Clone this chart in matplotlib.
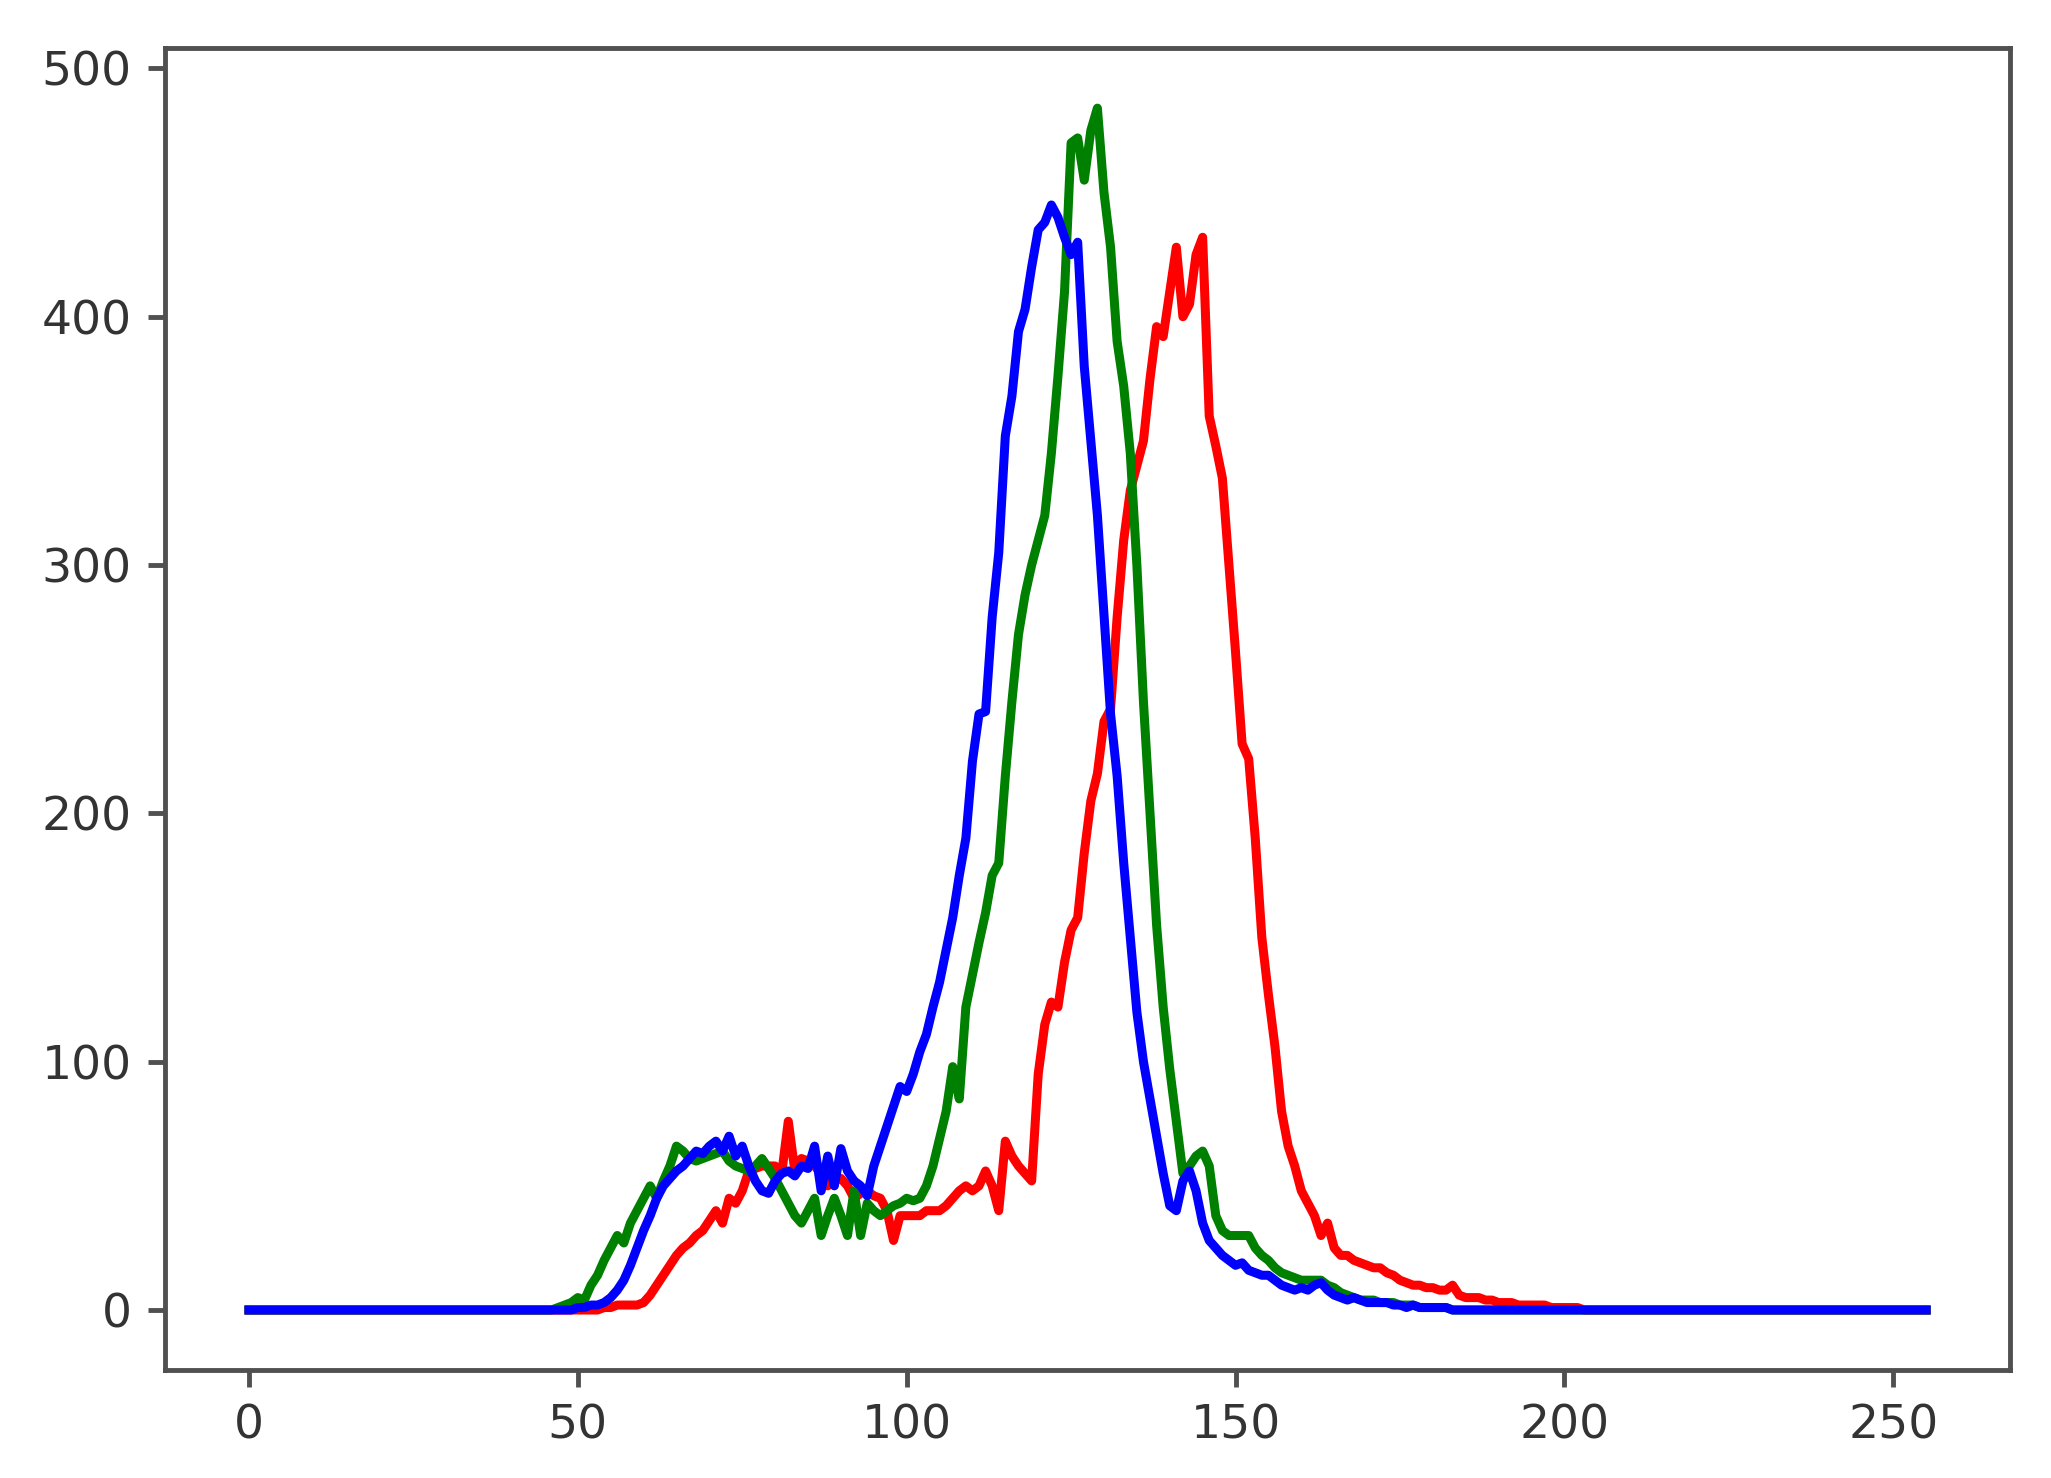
import numpy as np
import matplotlib
matplotlib.use("Agg")
import matplotlib.pyplot as plt

# histogram counts per channel (bins 0..255)
blue_start = 50
blue_vals = [1, 1, 2, 2, 3, 5, 8, 12, 18, 25,
             32, 38, 45, 50, 53, 56, 58, 61, 64, 63,
             66, 68, 64, 70, 62, 66, 58, 52, 48, 47,
             52, 55, 56, 54, 58, 57, 66, 48, 62, 50,
             65, 56, 52, 50, 46, 58, 66, 74, 82, 90,
             88, 95, 104, 111, 122, 132, 145, 158, 175, 190,
             221, 240, 241, 279, 305, 352, 368, 394, 403, 420,
             435, 438, 445, 440, 432, 425, 430, 380, 350, 320,
             280, 240, 215, 180, 150, 120, 100, 85, 70, 55,
             42, 40, 52, 56, 48, 35, 28, 25, 22, 20,
             18, 19, 16, 15, 14, 14, 12, 10, 9, 8,
             9, 8, 10, 11, 8, 6, 5, 4, 5, 4,
             3, 3, 3, 3, 2, 2, 1, 2, 1, 1,
             1, 1, 1]

green_start = 47
green_vals = [1, 2, 3,
              5, 4, 10, 14, 20, 25, 30, 27, 35, 40,
              45, 50, 45, 52, 58, 66, 64, 61, 60, 61,
              62, 63, 64, 60, 58, 57, 56, 58, 61, 57,
              53, 48, 43, 38, 35, 40, 45, 30, 38, 45,
              38, 30, 48, 30, 43, 40, 38, 40, 42, 43,
              45, 44, 45, 50, 58, 69, 80, 98, 85, 122,
              135, 148, 160, 175, 180, 215, 245, 272, 288, 300,
              310, 320, 345, 376, 410, 470, 472, 455, 475, 484,
              450, 428, 390, 372, 345, 300, 245, 200, 155, 122,
              97, 76, 55, 58, 62, 64, 58, 38, 32, 30,
              30, 30, 30, 25, 22, 20, 17, 15, 14, 13,
              12, 12, 12, 12, 10, 9, 7, 6, 5, 4,
              4, 4, 3, 3, 3, 2, 2, 2, 1, 1,
              1, 1, 1]

red_start = 54
red_vals = [1, 1, 2, 2, 2, 2,
            3, 6, 10, 14, 18, 22, 25, 27, 30, 32,
            36, 40, 35, 45, 43, 48, 56, 57, 58, 58,
            58, 55, 76, 56, 61, 60, 58, 55, 50, 52,
            53, 50, 45, 47, 48, 46, 45, 40, 28, 38,
            38, 38, 38, 40, 40, 40, 42, 45, 48, 50,
            48, 50, 56, 50, 40, 68, 62, 58, 55, 52,
            95, 115, 124, 122, 140, 153, 158, 184, 205, 216,
            237, 242, 279, 310, 330, 340, 350, 375, 396, 392,
            410, 428, 400, 405, 425, 432, 360, 348, 335, 300,
            265, 228, 222, 190, 150, 127, 106, 80, 66, 58,
            48, 43, 38, 30, 35, 25, 22, 22, 20, 19,
            18, 17, 17, 15, 14, 12, 11, 10, 10, 9,
            9, 8, 8, 10, 6, 5, 5, 5, 4, 4,
            3, 3, 3, 2, 2, 2, 2, 2, 1, 1,
            1, 1, 1]


def full_hist(start, vals):
    h = np.zeros(256)
    h[start:start + len(vals)] = vals
    return h


hists = [("r", full_hist(red_start, red_vals)),
         ("g", full_hist(green_start, green_vals)),
         ("b", full_hist(blue_start, blue_vals))]

fig = plt.figure(figsize=(20.51, 14.78), dpi=100)
ax = fig.add_axes([0.0805, 0.073, 0.8995, 0.8945])
for col, h in hists:
    ax.plot(h, color=col, linewidth=6.5)

ax.set_xticks([0, 50, 100, 150, 200, 250])
ax.set_yticks([0, 100, 200, 300, 400, 500])
for s in ax.spines.values():
    s.set_linewidth(3.5)
    s.set_color("#505050")
ax.tick_params(labelsize=34, length=12, width=3.5, color="#505050",
               labelcolor="#333333", pad=12)

fig.savefig("out.png", dpi=100)
